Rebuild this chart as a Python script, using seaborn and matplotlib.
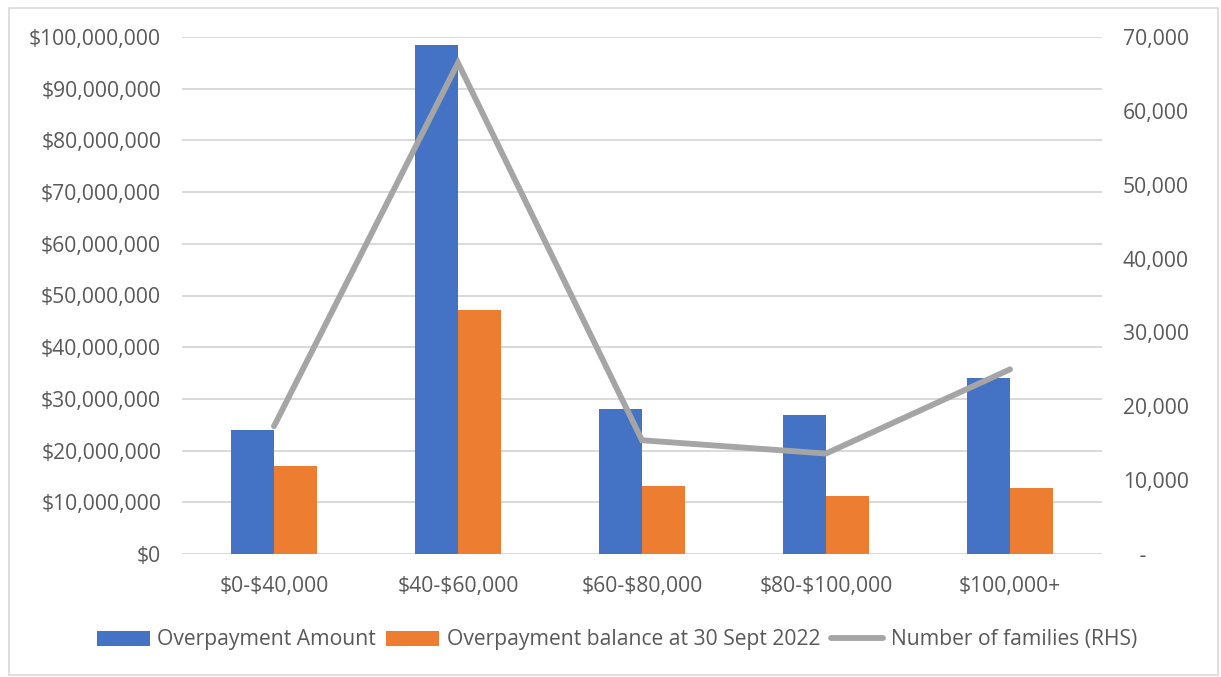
import numpy as np
import pandas as pd
import matplotlib
matplotlib.use("Agg")
import matplotlib.pyplot as plt
from matplotlib.ticker import FuncFormatter, MultipleLocator
from matplotlib.lines import Line2D
from matplotlib.patches import Rectangle
import seaborn as sns

# Income bands and series values
income_bands = ["$0-$40,000", "$40-$60,000", "$60-$80,000", "$80-$100,000", "$100,000+"]
overpayment_amount = [24.0e6, 98.5e6, 28.0e6, 26.9e6, 34.0e6]
overpayment_balance = [17.0e6, 47.2e6, 13.2e6, 11.2e6, 12.7e6]
number_of_families = [17300, 66500, 15400, 13600, 25000]

series_names = ["Overpayment Amount", "Overpayment balance at 30 Sept 2022"]
line_name = "Number of families (RHS)"

BLUE = "#4472C4"
ORANGE = "#ED7D31"
GREY = "#A5A5A5"
GRID = "#D9D9D9"
TEXT = "#595959"
FS = 15.2

sns.set_theme(style="white")
plt.rcParams["font.family"] = ["Open Sans", "DejaVu Sans"]
plt.rcParams["font.size"] = FS
plt.rcParams["text.parse_math"] = False

df = pd.DataFrame({
    "band": income_bands * 2,
    "value": overpayment_amount + overpayment_balance,
    "series": [series_names[0]] * len(income_bands) + [series_names[1]] * len(income_bands),
})

fig = plt.figure(figsize=(12.21, 6.77), dpi=100)
ax = fig.add_axes([182 / 1221, 1 - 554 / 677, 920 / 1221, (554 - 37) / 677])

sns.barplot(data=df, x="band", y="value", hue="series", order=income_bands,
            hue_order=series_names, palette=[BLUE, ORANGE], width=0.47,
            saturation=1, linewidth=0, ax=ax, legend=True)
bar_handles = list(ax.get_legend().legend_handles)
ax.get_legend().remove()

ax.set_ylim(0, 100e6)
ax.set_xlim(-0.5, len(income_bands) - 0.5)
ax.yaxis.set_major_locator(MultipleLocator(10e6))
ax.yaxis.set_major_formatter(FuncFormatter(lambda v, p: f"${v:,.0f}"))
ax.grid(axis="y", color=GRID, linewidth=1.4)
ax.set_axisbelow(True)
ax.set_xlabel("")
ax.set_ylabel("")
for s in ax.spines.values():
    s.set_visible(False)
ax.tick_params(axis="y", length=0, pad=15, labelcolor=TEXT, labelsize=FS)
ax.tick_params(axis="x", length=0, pad=16, labelcolor=TEXT, labelsize=FS)

ax2 = ax.twinx()
sns.lineplot(x=np.arange(len(income_bands)), y=number_of_families, color=GREY,
             linewidth=4.2, ax=ax2, solid_capstyle="round", solid_joinstyle="miter")
ax2.set_ylim(0, 70000)
ax2.yaxis.set_major_locator(MultipleLocator(10000))
ax2.yaxis.set_major_formatter(FuncFormatter(lambda v, p: "   -" if v == 0 else f"{v:,.0f}"))
ax2.tick_params(axis="y", length=0, pad=15, labelcolor=TEXT, labelsize=FS)
ax2.grid(False)
for s in ax2.spines.values():
    s.set_visible(False)
ax2.set_ylabel("")

line_handle = Line2D([0], [0], color=GREY, linewidth=4.2)
handles = bar_handles + [line_handle]
labels = series_names + [line_name]
fig.legend(handles, labels, loc="center", bbox_to_anchor=(617 / 1221, 1 - 640 / 677),
           ncol=3, frameon=False, fontsize=FS, labelcolor=TEXT,
           handlelength=2.5, handleheight=0.7, handletextpad=0.35,
           columnspacing=0.5)

fig.patches.append(Rectangle((9 / 1221, 1 - 675 / 677), 1209 / 1221, 667 / 677,
                             transform=fig.transFigure, fill=False,
                             edgecolor=GRID, linewidth=1.2))

fig.savefig("out.png", dpi=100)
